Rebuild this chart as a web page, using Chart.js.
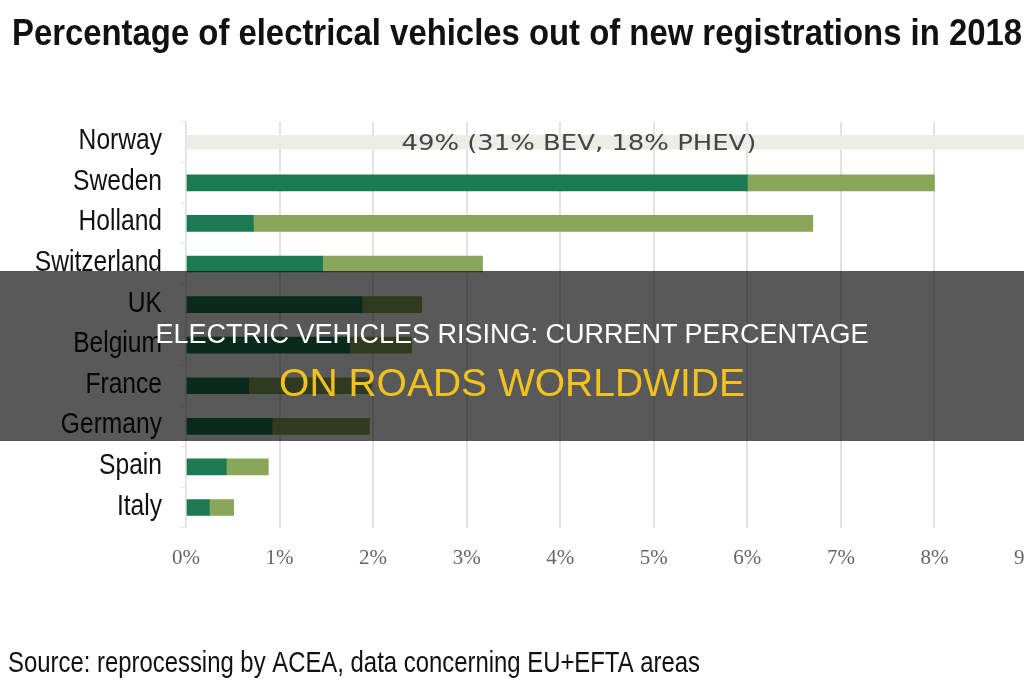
<!DOCTYPE html>
<html>
<head>
<meta charset="utf-8">
<script src="https://cdn.jsdelivr.net/npm/chart.js@4.4.1/dist/chart.umd.min.js"></script>
<style>
  html, body { margin: 0; padding: 0; background: #fff; overflow: hidden; }
  #wrap { position: relative; width: 1060px; height: 680px; }
  #banner {
    position: absolute; left: 0; top: 271px; width: 1024px; height: 170px;
    background: rgba(0, 0, 0, 0.65); text-align: center;
    font-family: "Liberation Sans", Arial, sans-serif;
  }
  #banner .l1 { color: #fff; font-size: 27px; line-height: 30px; margin-top: 48px; }
  #banner .l2 { color: #f4c21c; font-size: 39px; line-height: 44px; margin-top: 12px; }
</style>
</head>
<body>
<div id="wrap">
  <canvas id="evChart" width="1060" height="680"></canvas>
  <div id="banner">
    <div class="l1">ELECTRIC VEHICLES RISING: CURRENT PERCENTAGE</div>
    <div class="l2">ON ROADS WORLDWIDE</div>
  </div>
</div>
<script>
// donnees (en %)
const countries = ['Norway', 'Sweden', 'Holland', 'Switzerland', 'UK', 'Belgium', 'France', 'Germany', 'Spain', 'Italy'];
const bev = [null, 6.0, 0.72, 1.46, 1.88, 1.75, 0.67, 0.92, 0.43, 0.25];
const phev = [null, 2.0, 5.98, 1.71, 0.64, 0.66, 1.31, 1.04, 0.45, 0.26];
const norwayTotal = [49, null, null, null, null, null, null, null, null, null];
const norwayLabel = '49% (31% BEV, 18% PHEV)';
const norwayLabelAt = 4.2;
const xTicks = [0, 1, 2, 3, 4, 5, 6, 7, 8, 9];
const titleText = 'Percentage of electrical vehicles out of new registrations in 2018';
const sourceText = 'Source: reprocessing by ACEA, data concerning EU+EFTA areas';

const sans = '"Liberation Sans", Arial, sans-serif';

// texte "etroit" : police normale compressee horizontalement
function drawNarrow(ctx, text, x, y, font, opts) {
    ctx.save();
    ctx.font = font;
    ctx.fillStyle = opts.color || '#111';
    ctx.textBaseline = 'alphabetic';
    ctx.textAlign = 'left';
    const w = ctx.measureText(text).width;
    const sx = opts.width ? opts.width / w : (opts.scale || 1);
    const drawnW = w * sx;
    const left = opts.align === 'right' ? x - drawnW : (opts.align === 'center' ? x - drawnW / 2 : x);
    ctx.translate(left, y);
    ctx.scale(sx, 1);
    ctx.fillText(text, 0, 0);
    ctx.restore();
}

const textPlugin = {
    id: 'textPlugin',
    afterDatasetsDraw(chart) {
        const ctx = chart.ctx;
        const xs = chart.scales.x;
        const ys = chart.scales.y;
        // libelle Norvege
        drawNarrow(ctx, norwayLabel, xs.getPixelForValue(norwayLabelAt), ys.getPixelForValue(0) + 8,
            '22px "DejaVu Sans", sans-serif', { color: '#444', width: 355, align: 'center' });
        // noms des pays
        countries.forEach((c, i) => {
            drawNarrow(ctx, c, chart.chartArea.left - 24, ys.getPixelForValue(i) + 7,
                '30px ' + sans, { scale: 0.82, align: 'right' });
        });
        drawNarrow(ctx, titleText, 12, 45, 'bold 37px ' + sans, { width: 1010 });
        drawNarrow(ctx, sourceText, 8, 672, '29px ' + sans, { width: 692 });
    }
};

const ctx = document.getElementById('evChart').getContext('2d');
new Chart(ctx, {
    type: 'bar',
    data: {
        labels: countries,
        datasets: [
            {
                label: 'Total',
                data: norwayTotal,
                backgroundColor: '#ededE8',
                barThickness: 14,
                stack: 's'
            },
            {
                label: 'BEV',
                data: bev,
                backgroundColor: '#1b7a52',
                barThickness: 16,
                stack: 's'
            },
            {
                label: 'PHEV',
                data: phev,
                backgroundColor: '#89a65b',
                barThickness: 16,
                stack: 's'
            }
        ]
    },
    options: {
        indexAxis: 'y',
        responsive: false,
        animation: false,
        layout: { padding: { left: 180, right: 0, top: 122, bottom: 91 } },
        scales: {
            x: {
                stacked: true,
                min: 0,
                max: 9,
                afterBuildTicks: (axis) => { axis.ticks = xTicks.map(v => ({ value: v })); },
                grid: { color: '#e2e2e2', lineWidth: 2, drawTicks: false },
                border: { display: false },
                ticks: {
                    callback: (v) => v + '%',
                    color: '#666',
                    padding: 18,
                    font: { family: '"Liberation Serif", "DejaVu Serif", serif', size: 21 }
                }
            },
            y: {
                stacked: true,
                grid: { drawOnChartArea: false, tickLength: 6, color: '#e6e6e6' },
                border: { display: true, color: '#e4e4e4', width: 2 },
                ticks: { display: false }
            }
        },
        plugins: {
            legend: { display: false },
            tooltip: { enabled: false },
            title: { display: false }
        }
    },
    plugins: [textPlugin]
});
</script>
</body>
</html>
